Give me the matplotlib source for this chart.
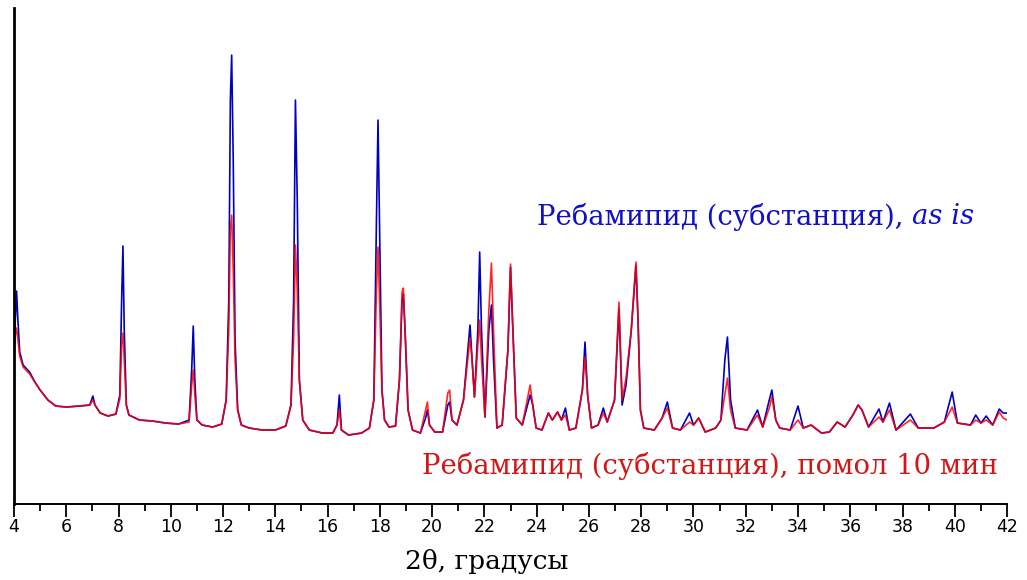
import matplotlib
matplotlib.use('Agg')
import matplotlib.pyplot as plt
from matplotlib.ticker import MultipleLocator

# 2theta, deg
two_theta = [4.00, 4.05, 4.10, 4.15, 4.22, 4.35, 4.60, 4.80, 5.00, 5.30, 5.60, 6.00, 6.50, 6.90,
             7.02, 7.10, 7.30, 7.60, 7.90, 8.05, 8.12, 8.17, 8.22, 8.30, 8.40, 8.80, 9.30, 9.80,
             10.30, 10.70, 10.80, 10.86, 10.92, 11.00, 11.20, 11.60, 11.95, 12.12, 12.22, 12.28,
             12.33, 12.39, 12.46, 12.56, 12.70, 13.00, 13.50, 14.00, 14.40, 14.60, 14.70, 14.77,
             14.84, 14.92, 15.05, 15.30, 15.80, 16.20, 16.36, 16.45, 16.53, 16.80, 17.30, 17.60,
             17.77, 17.87, 17.93, 17.99, 18.08, 18.18, 18.35, 18.60, 18.75, 18.85, 18.90, 18.98,
             19.08, 19.25, 19.55, 19.75, 19.82, 19.90, 20.10, 20.40, 20.60, 20.67, 20.76, 20.95,
             21.20, 21.45, 21.53, 21.62, 21.75, 21.82, 21.89, 22.02, 22.17, 22.27, 22.35, 22.48,
             22.68, 22.90, 23.00, 23.09, 23.22, 23.45, 23.75, 23.85, 23.98, 24.20, 24.45, 24.60,
             24.80, 24.95, 25.10, 25.25, 25.50, 25.75, 25.85, 25.95, 26.10, 26.35, 26.55, 26.70,
             26.98, 27.15, 27.27, 27.42, 27.62, 27.80, 27.88, 27.97, 28.10, 28.50, 28.80, 29.00,
             29.20, 29.50, 29.85, 30.00, 30.20, 30.45, 30.85, 31.05, 31.20, 31.30, 31.42, 31.60,
             32.05, 32.45, 32.65, 32.90, 33.00, 33.15, 33.30, 33.70, 34.00, 34.20, 34.50, 34.90,
             35.20, 35.50, 35.80, 36.10, 36.30, 36.45, 36.70, 37.10, 37.25, 37.50, 37.75, 38.30,
             38.60, 39.20, 39.60, 39.90, 40.10, 40.60, 40.80, 41.00, 41.20, 41.45, 41.70, 41.85,
             42.00]

# substance, as is
as_is = [154, 184, 213, 184, 152, 139, 132, 122, 114, 104, 98, 97, 98, 99,
         108, 99, 91, 88, 90, 109, 204, 258, 174, 99, 89, 84, 83, 81,
         80, 84, 134, 178, 124, 84, 79, 77, 80, 104, 204, 404,
         449, 344, 164, 94, 79, 76, 74, 74, 78, 99, 204, 404,
         304, 124, 84, 74, 71, 71, 79, 109, 74, 69, 71, 76,
         104, 284, 384, 274, 114, 84, 77, 78, 124, 204, 210, 164,
         94, 74, 71, 86, 94, 79, 72, 72, 99, 102, 84, 79,
         104, 179, 144, 107, 174, 252, 174, 87, 174, 199, 144, 76,
         79, 154, 237, 174, 86, 79, 109, 99, 76, 74, 91, 84,
         92, 84, 96, 74, 76, 114, 162, 109, 76, 79, 96, 82,
         104, 196, 99, 119, 174, 239, 184, 94, 76, 74, 86, 102,
         76, 74, 91, 79, 86, 72, 76, 84, 144, 167, 104, 76,
         74, 94, 77, 104, 114, 84, 76, 74, 98, 76, 79, 71,
         72, 82, 77, 89, 99, 94, 77, 95, 82, 101, 74, 90,
         76, 76, 82, 112, 81, 79, 89, 81, 88, 79, 95, 91,
         91]

# substance, milled 10 min
milled = [148, 169, 176, 164, 148, 137, 130, 122, 114, 104, 98, 97, 98, 99,
          104, 99, 91, 88, 90, 105, 159, 171, 144, 99, 89, 84, 83, 81,
          80, 82, 119, 134, 109, 84, 79, 77, 80, 104, 174, 274,
          289, 234, 144, 94, 79, 76, 74, 74, 78, 99, 164, 259,
          214, 124, 84, 74, 71, 71, 79, 94, 74, 69, 71, 76,
          104, 214, 257, 204, 114, 84, 77, 78, 124, 212, 216, 164,
          94, 74, 71, 94, 102, 79, 72, 72, 111, 114, 84, 79,
          104, 166, 144, 107, 159, 184, 144, 87, 194, 241, 174, 76,
          79, 154, 240, 174, 86, 79, 119, 99, 76, 74, 91, 84,
          92, 84, 89, 74, 76, 114, 147, 109, 76, 79, 91, 82,
          104, 202, 104, 126, 174, 242, 184, 94, 76, 74, 86, 96,
          76, 74, 82, 79, 86, 72, 76, 84, 109, 126, 94, 76,
          74, 89, 77, 96, 107, 84, 76, 74, 84, 76, 79, 71,
          72, 82, 77, 89, 99, 94, 77, 87, 82, 94, 74, 84,
          76, 76, 82, 97, 81, 79, 84, 81, 84, 79, 92, 86,
          84]

label_as_is = 'Ребамипид (субстанция), '
label_as_is_it = 'as is'
label_milled = 'Ребамипид (субстанция), помол 10 мин'

W, H = 1027, 580
fig = plt.figure(figsize=(W / 100, H / 100), dpi=100)
ax = fig.add_axes([0.0136, 0.131, 0.967, 0.855])

ax.plot(two_theta, as_is, color='#0000c0', lw=1.2)
ax.plot(two_theta, milled, color='#ff0000', lw=1.2, alpha=0.85)

ax.set_xlim(4, 42)
ax.set_ylim(0, 496)
ax.xaxis.set_major_locator(MultipleLocator(2))
ax.xaxis.set_minor_locator(MultipleLocator(1))
ax.tick_params(axis='x', which='major', direction='out', length=9, width=1.3, pad=1,
               labelsize=12.5)
ax.tick_params(axis='x', which='minor', direction='out', length=5, width=1.3)
ax.set_yticks([])
for lab in ax.get_xticklabels():
    lab.set_family('DejaVu Sans')
for s in ['top', 'right']:
    ax.spines[s].set_visible(False)
ax.spines['left'].set_linewidth(2)
ax.spines['bottom'].set_linewidth(1.4)

fig.text(487 / W, 1 - 561 / H, '2θ, градусы', family='DejaVu Serif', fontsize=19,
         ha='center', va='center')

t1 = fig.text(537 / W, 1 - 217 / H, label_as_is, family='DejaVu Serif',
              fontsize=19.8, color='#1010c8', va='center', ha='left')
fig.canvas.draw()
bb = t1.get_window_extent()
fig.text(bb.x1 / W, 1 - 217 / H, label_as_is_it, family='DejaVu Serif',
         style='italic', fontsize=19.8, color='#1010c8', va='center', ha='left')

fig.text(422 / W, 1 - 466 / H, label_milled, family='DejaVu Serif',
         fontsize=19.8, color='#d01818', va='center', ha='left')

fig.savefig('out.png', dpi=100)
